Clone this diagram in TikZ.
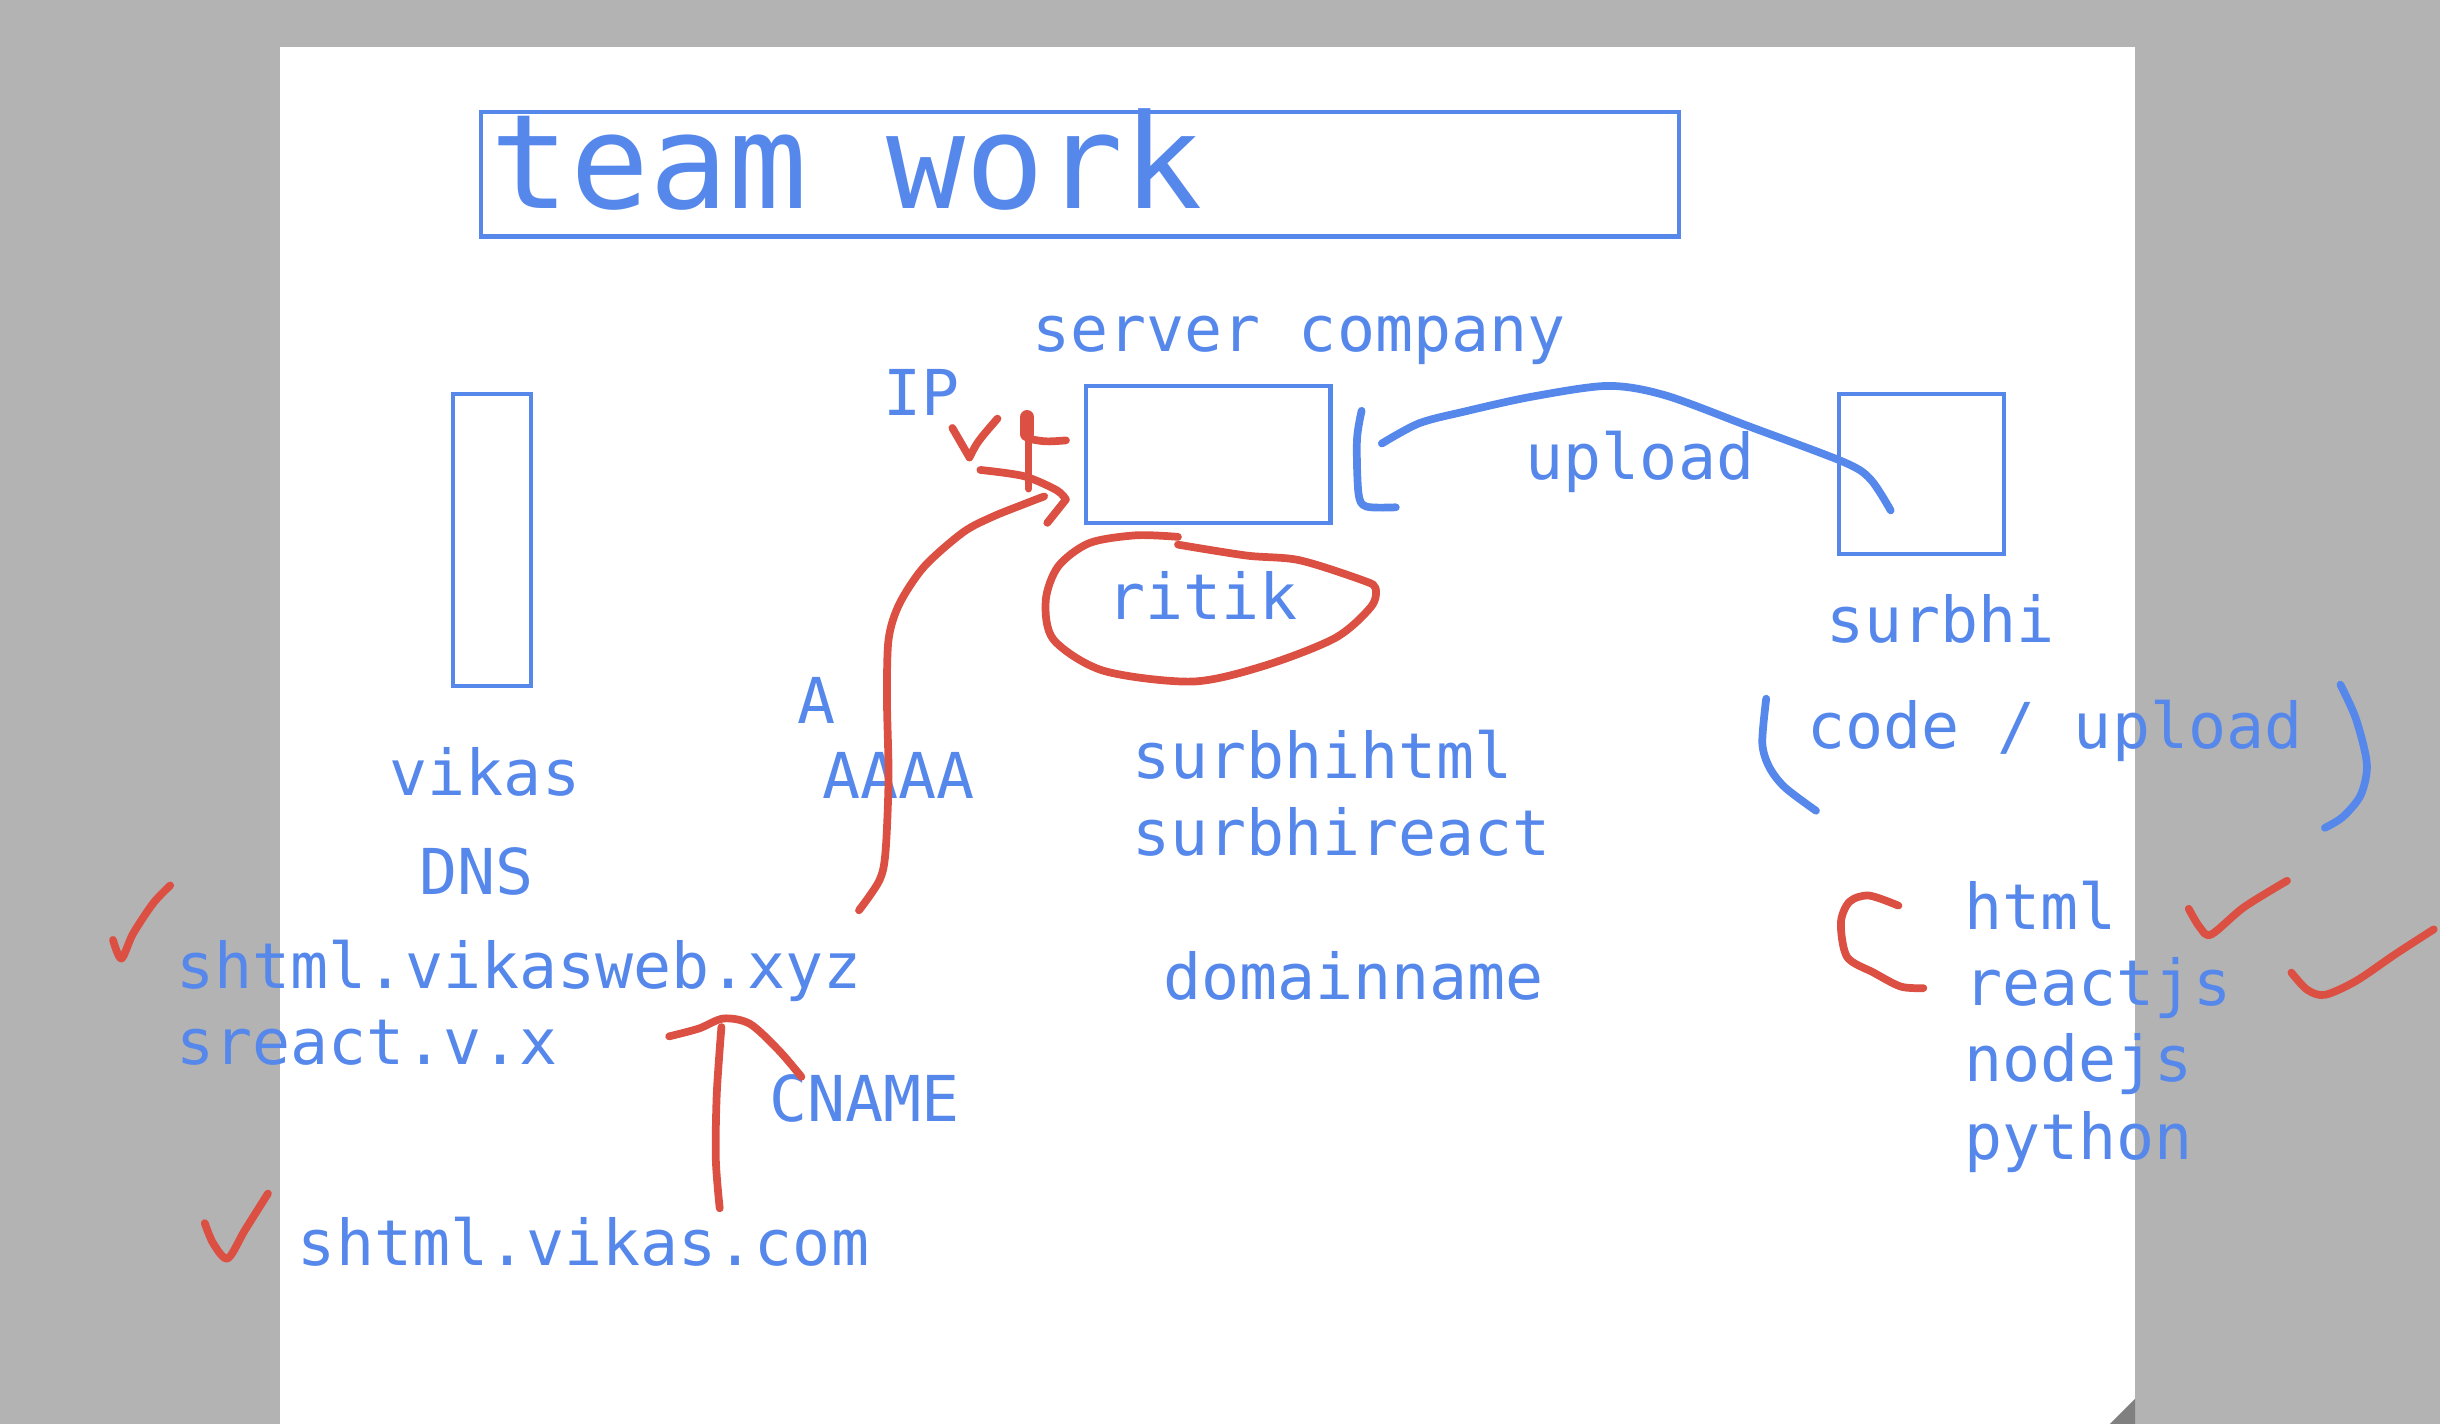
\documentclass[tikz,border=0pt]{standalone}
\usepackage{fontspec}
\usepackage{xcolor}
\usepackage{tikz}
\newfontfamily\sketchfont{DejaVu Sans Mono}
\definecolor{penblue}{RGB}{86,136,236}
\definecolor{penred}{RGB}{219,80,66}
\definecolor{boardgray}{RGB}{179,179,179}
\definecolor{cornergray}{RGB}{128,128,128}

\begin{document}
\begin{tikzpicture}[
    x=0.015561cm, y=-0.015561cm,
    sketchtext/.style={text=penblue, font=\sketchfont\fontsize{18}{20}\selectfont, inner sep=0pt, anchor=base west},
    titletext/.style={text=penblue, font=\sketchfont\fontsize{37.4}{40}\selectfont, inner sep=0pt, anchor=base west},
    box/.style={rectangle, draw=penblue, line width=1.2pt, inner sep=0pt},
    bluepen/.style={draw=penblue, line width=2.2pt, line cap=round, line join=round},
    redpen/.style={draw=penred, line width=2.2pt, line cap=round, line join=round},
]

% Board and page
\fill[boardgray] (0,0) rectangle (1568,915);
\fill[white] (180,30) rectangle (1372,915);
\fill[cornergray] (1356,915) -- (1372,899) -- (1372,915) -- cycle;

% Title
\node[box, minimum width=11.982cm, minimum height=1.245cm] (titlebox) at (694,112) {};
\node[titletext] (title) at (315,134) {team work};

% Boxes
\node[box, minimum width=0.778cm, minimum height=2.925cm] (vikasbox) at (316,347) {};
\node[box, minimum width=2.443cm, minimum height=1.369cm] (serverbox) at (776.5,292) {};
\node[box, minimum width=1.649cm, minimum height=1.603cm] (surbhibox) at (1235,304.5) {};

% Top row texts
\node[sketchtext] (servercompany) at (663,226) {server company};
\node[sketchtext] (ip) at (567,267) {IP};
\node[sketchtext] (upload) at (980,308) {upload};
\node[sketchtext] (ritik) at (711,398) {ritik};
\node[sketchtext] (surbhi) at (1173,413) {surbhi};

% DNS records
\node[sketchtext] (reca) at (512,465) {A};
\node[sketchtext] (recaaaa) at (528,513) {AAAA};
\node[sketchtext] (vikas) at (250,511) {vikas};
\node[sketchtext] (dns) at (269,575) {DNS};
\node[sketchtext] (surbhihtml) at (727,500) {surbhihtml};
\node[sketchtext] (surbhireact) at (727,550) {surbhireact};
\node[sketchtext] (domainname) at (747,642) {domainname};
\node[sketchtext] (shtmlxyz) at (113,635) {shtml.vikasweb.xyz};
\node[sketchtext] (sreact) at (113,684) {sreact.v.x};
\node[sketchtext] (cname) at (494,721) {CNAME};
\node[sketchtext] (shtmlcom) at (191,813) {shtml.vikas.com};

% Stack list
\node[sketchtext] (codeupload) at (1161,481) {code / upload};
\node[sketchtext] (html) at (1262,597) {html};
\node[sketchtext] (reactjs) at (1262,646) {reactjs};
\node[sketchtext] (nodejs) at (1262,695) {nodejs};
\node[sketchtext] (python) at (1262,745) {python};

% Blue pen strokes
\draw[bluepen] plot[smooth] coordinates {(875,264) (872,283) (873,317) (878,325.5) (897,326)};
\draw[bluepen] plot[smooth] coordinates {(888,285) (912,272) (941,264.5) (984,255) (1033,248) (1070,254) (1124,274) (1185,297) (1202,308) (1215,328)};
\draw[bluepen] plot[smooth] coordinates {(1135,449) (1132.5,477.5) (1137,493) (1147,506) (1167,521)};
\draw[bluepen] plot[smooth] coordinates {(1504,440) (1514,462) (1521,491) (1517,511) (1505.5,525) (1494,532)};

% Red pen strokes: IP arrow
\draw[redpen] (612,275) -- (623,294) .. controls (628,284) .. (641,269);
\draw[redpen] (661,267) -- (661,314);
\draw[penred, line width=4pt, line cap=round] (660,268) -- (660,279);
\draw[redpen] (661,282) .. controls (672,284) .. (685,283);
\draw[redpen] plot[smooth] coordinates {(630,302) (658,306) (679,315) (685,321)} -- (673,336);
\draw[redpen] plot[smooth] coordinates {(552,585) (565,566) (569,548) (571,500) (570,450) (571,411) (578,388) (594,364) (619,342) (638,332) (658,324) (671,319)};

% Red pen strokes: ring round ritik
\draw[redpen] plot[smooth] coordinates {(757,345) (730,344) (700,349) (680,364) (672,386) (677,411) (709,431) (766,438) (812,428) (858,410) (881,390) (884,378) (876,373) (835,360) (801,357) (757,350)};

% Red pen strokes: CNAME arrow
\draw[redpen] plot[smooth] coordinates {(462.5,776.5) (460,745) (460.6,703) (463.6,660)};
\draw[redpen] plot[smooth] coordinates {(430,666) (449,661) (465,654.5) (482,658) (500.5,675) (515,692)};

% Red ticks
\draw[redpen] plot[smooth, tension=0.5] coordinates {(72.6,604) (78,616) (85.5,600) (98.4,580.5) (109.4,569)};
\draw[redpen] plot[smooth, tension=0.5] coordinates {(131.6,786) (137,799) (146.3,808.7) (157.4,790.5) (172.2,767)};
\draw[redpen] plot[smooth] coordinates {(1220,582) (1201,575.5) (1188.5,579.5) (1183,593) (1187,615) (1204,625) (1221.5,634) (1236,635)};
\draw[redpen] plot[smooth, tension=0.5] coordinates {(1406.5,584) (1413.7,596) (1421,600.5) (1442,583) (1469.7,566)};
\draw[redpen] plot[smooth, tension=0.5] coordinates {(1472.5,625) (1482.6,636) (1494,639.3) (1514,630.4) (1540,612.7) (1564,597.2)};

\end{tikzpicture}
\end{document}
